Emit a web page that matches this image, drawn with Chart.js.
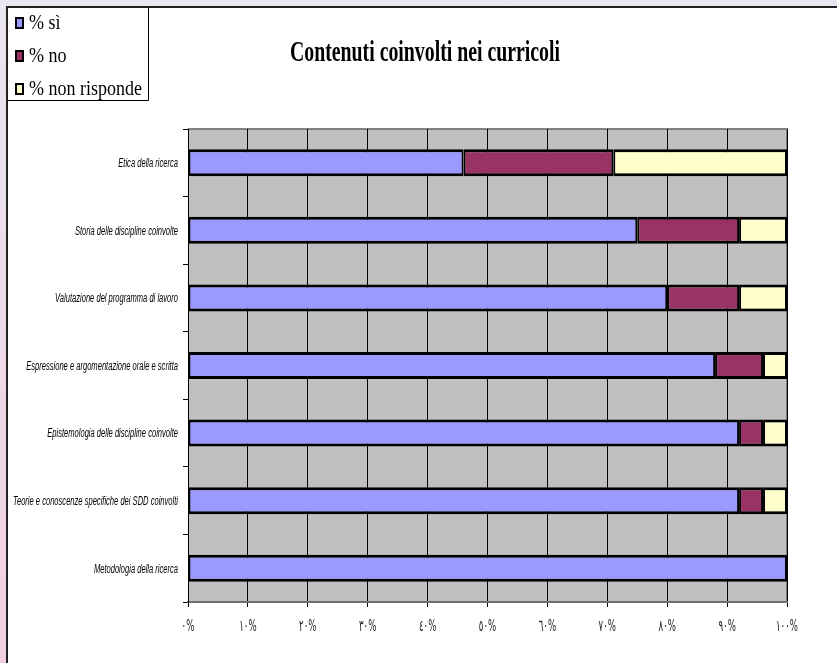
<!DOCTYPE html>
<html>
<head>
<meta charset="utf-8">
<script src="https://cdn.jsdelivr.net/npm/chart.js@4/dist/chart.umd.min.js"></script>
<style>
    html, body { margin: 0; padding: 0; }
    body {
        width: 837px; height: 663px; overflow: hidden; position: relative;
        background: linear-gradient(#e9e5f1, #f1cfe2);
    }
    #sheet {
        position: absolute; left: 6px; top: 6px; right: 0; bottom: 0;
        background: #ffffff;
        border-left: 2px solid #222; border-top: 2px solid #222;
    }
    #wrap { position: absolute; left: 0; top: 0; width: 837px; height: 663px; }
</style>
</head>
<body>
<div id="sheet"></div>
<div id="wrap"><canvas id="curricoli-chart" width="837" height="663"></canvas></div>
<script>
// Chart data
const chartTitle = 'Contenuti coinvolti nei curricoli';
const categories = [
    'Etica della ricerca',
    'Storia delle discipline coinvolte',
    'Valutazione del programma di lavoro',
    'Espressione e argomentazione orale e scritta',
    'Epistemologia delle discipline coinvolte',
    'Teorie e conoscenze specifiche dei SDD coinvolti',
    'Metodologia della ricerca'
];
const seriesNames = ['% sì', '% no', '% non risponde'];
const siValues = [46, 75, 80, 88, 92, 92, 100];
const noValues = [25, 17, 12, 8, 4, 4, 0];
const nonRispondeValues = [29, 8, 8, 4, 4, 4, 0];
const xTickLabels = ['٠%', '١٠%', '٢٠%', '٣٠%', '٤٠%', '٥٠%', '٦٠%', '٧٠%', '٨٠%', '٩٠%', '١٠٠%'];

const seriesColors = ['#9999ff', '#993366', '#ffffcc'];

/**
 * Draws text squeezed horizontally (the original uses condensed fonts)
 */
function drawSqueezed(ctx, text, x, y, scaleX, align) {
    const w = ctx.measureText(text).width * scaleX;
    let left = x;
    if (align === 'right') left = x - w;
    else if (align === 'center') left = x - w / 2;
    ctx.save();
    ctx.translate(left, y);
    ctx.scale(scaleX, 1);
    ctx.textAlign = 'left';
    ctx.fillText(text, 0, 0);
    ctx.restore();
}

// Grey plot background
const plotBackground = {
    id: 'plotBackground',
    beforeDraw(chart) {
        const { ctx, chartArea: a } = chart;
        ctx.save();
        ctx.fillStyle = '#c0c0c0';
        ctx.fillRect(a.left, a.top, a.right - a.left, a.bottom - a.top);
        ctx.strokeStyle = '#808080';
        ctx.lineWidth = 2;
        ctx.beginPath();
        ctx.moveTo(a.left, a.top);
        ctx.lineTo(a.right, a.top);
        ctx.lineTo(a.right, a.bottom);
        ctx.stroke();
        ctx.restore();
    }
};

// Title, legend box and axis labels
const textLayer = {
    id: 'textLayer',
    afterDraw(chart) {
        const ctx = chart.ctx;
        const yScale = chart.scales.y;
        const xScale = chart.scales.x;
        ctx.save();
        ctx.fillStyle = '#000';
        ctx.textBaseline = 'alphabetic';

        // Title
        ctx.font = 'bold 30px "Liberation Serif", serif';
        let s = 270 / ctx.measureText(chartTitle).width;
        drawSqueezed(ctx, chartTitle, 425, 61, s, 'center');

        // Legend box
        ctx.strokeStyle = '#000';
        ctx.lineWidth = 1;
        ctx.beginPath();
        ctx.moveTo(148.5, 7);
        ctx.lineTo(148.5, 100.5);
        ctx.lineTo(7, 100.5);
        ctx.stroke();
        ctx.font = '20px "Liberation Serif", serif';
        s = 113 / ctx.measureText(seriesNames[2]).width;
        seriesNames.forEach(function(name, i) {
            const base = 29 + i * 33;
            ctx.fillStyle = seriesColors[i];
            ctx.fillRect(16, base - 11, 7, 10);
            ctx.lineWidth = 2;
            ctx.strokeRect(16, base - 11, 7, 10);
            ctx.fillStyle = '#000';
            drawSqueezed(ctx, name, 29, base, s, 'left');
        });

        // Category labels
        ctx.font = 'italic 12px "Liberation Sans", sans-serif';
        s = 165 / ctx.measureText(categories[5]).width;
        ctx.textBaseline = 'middle';
        categories.forEach(function(label, i) {
            drawSqueezed(ctx, label, 178, yScale.getPixelForValue(i) + 1, s, 'right');
        });

        // Value axis labels
        ctx.font = '16px "DejaVu Sans", sans-serif';
        ctx.fillStyle = '#222';
        s = 22 / ctx.measureText(xTickLabels[10]).width;
        xScale.ticks.forEach(function(t, i) {
            drawSqueezed(ctx, xTickLabels[i], xScale.getPixelForTick(i), 627, s, 'center');
        });
        ctx.restore();
    }
};

const ctx = document.getElementById('curricoli-chart');
new Chart(ctx, {
    type: 'bar',
    data: {
        labels: categories,
        datasets: [
            { label: seriesNames[0], data: siValues, backgroundColor: seriesColors[0] },
            { label: seriesNames[1], data: noValues, backgroundColor: seriesColors[1] },
            { label: seriesNames[2], data: nonRispondeValues, backgroundColor: seriesColors[2] }
        ].map(function(d) {
            d.borderColor = '#000';
            d.borderWidth = { top: 3, bottom: 3, left: 2, right: 2 };
            d.borderSkipped = false;
            d.barPercentage = 0.4;
            d.categoryPercentage = 1;
            return d;
        })
    },
    options: {
        indexAxis: 'y',
        responsive: false,
        animation: false,
        layout: { padding: { top: 129, right: 50, bottom: 0, left: 0 } },
        plugins: {
            legend: { display: false },
            title: { display: false },
            tooltip: { enabled: false }
        },
        scales: {
            x: {
                stacked: true,
                min: 0,
                max: 100,
                ticks: { stepSize: 10, display: false },
                grid: { color: '#000', lineWidth: 1, tickLength: 5, tickColor: '#000' },
                border: { color: '#707070', width: 2 },
                afterFit: function(scale) { scale.height = 61; }
            },
            y: {
                stacked: true,
                ticks: { display: false },
                grid: { drawOnChartArea: false, offset: true, tickLength: 5, color: '#000' },
                border: { color: '#000', width: 1 },
                afterFit: function(scale) { scale.width = 188; }
            }
        }
    },
    plugins: [plotBackground, textLayer]
});
</script>
</body>
</html>
